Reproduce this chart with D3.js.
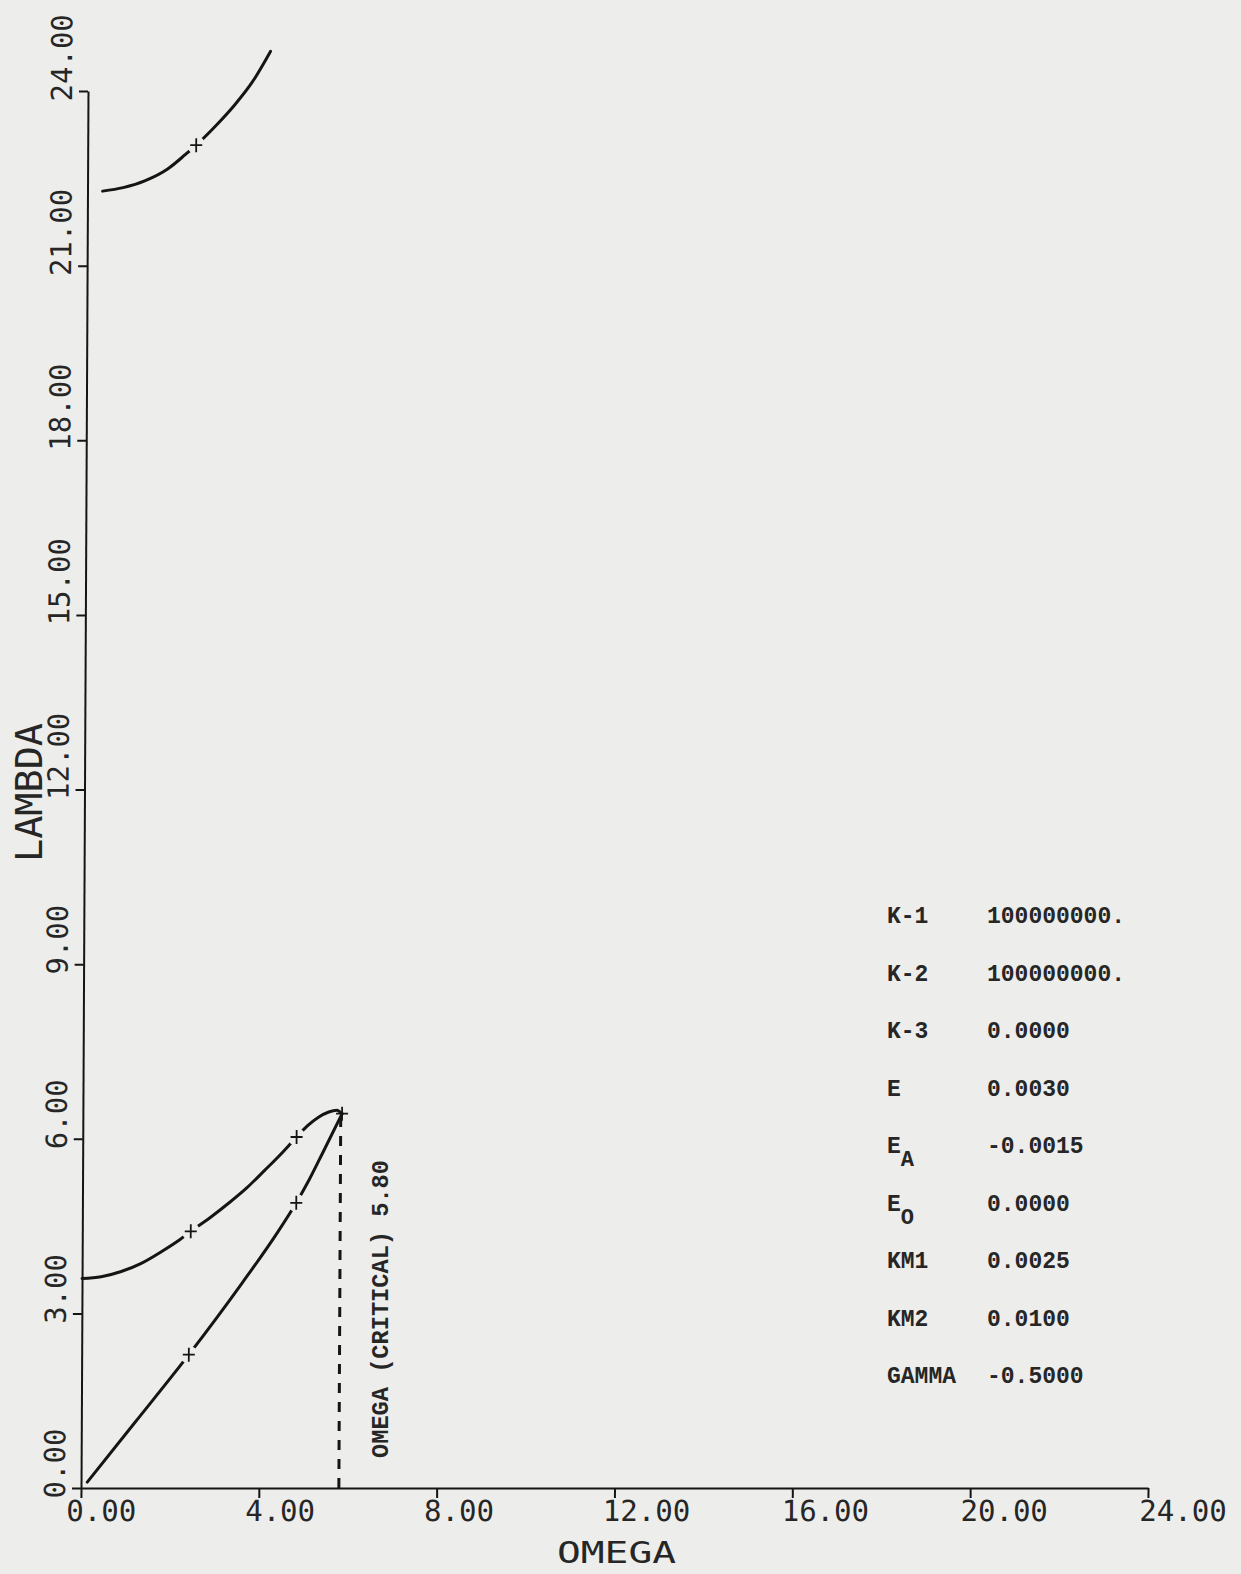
<!DOCTYPE html>
<html>
<head>
<meta charset="utf-8">
<script src="https://cdn.jsdelivr.net/npm/d3@7"></script>
<style>
  html, body { margin: 0; padding: 0; background: #ededeb; }
  svg { display: block; }
</style>
</head>
<body>
<script>
// ---------- data ----------
const xTicks = [0, 4, 8, 12, 16, 20, 24];
const yTicks = [0, 3, 6, 9, 12, 15, 18, 21, 24];

// upper branch
const upperOmega  = [0.34, 0.80, 1.30, 1.80, 2.20, 2.44, 2.90, 3.30, 3.70, 4.10];
const upperLambda = [22.28, 22.34, 22.46, 22.66, 22.91, 23.07, 23.42, 23.76, 24.16, 24.68];

// middle branch
const midOmega  = [0.00, 0.43, 0.88, 1.33, 1.78, 2.20, 2.44, 2.90, 3.30, 3.70, 4.10, 4.45, 4.81, 5.05, 5.30, 5.53, 5.71, 5.83];
const midLambda = [3.60, 3.63, 3.72, 3.86, 4.06, 4.27, 4.41, 4.66, 4.90, 5.16, 5.46, 5.73, 6.03, 6.22, 6.37, 6.46, 6.49, 6.43];

// lower branch
const lowOmega  = [0.14, 1.20, 2.41, 3.60, 4.40, 4.81, 5.10, 5.40, 5.83];
const lowLambda = [0.10, 1.12, 2.29, 3.52, 4.40, 4.90, 5.30, 5.76, 6.43];

// plotted symbols
const markOmega  = [2.44, 2.44, 4.81, 2.41, 4.81, 5.83];
const markLambda = [23.07, 4.41, 6.03, 2.29, 4.90, 6.43];

const criticalOmega = 5.80;
const criticalTop = 6.43;
const criticalLabel = "OMEGA (CRITICAL) 5.80";

const paramNames  = ["K-1", "K-2", "K-3", "E", "E|A", "E|O", "KM1", "KM2", "GAMMA"];
const paramValues = ["100000000.", "100000000.", "0.0000", "0.0030", "-0.0015", "0.0000", "0.0025", "0.0100", "-0.5000"];

// ---------- drawing ----------
const W = 1241, H = 1574;
const bg = "#ededeb";
const svg = d3.select("body").append("svg").attr("width", W).attr("height", H);
svg.append("rect").attr("width", W).attr("height", H).attr("fill", bg);

const x = d3.scaleLinear().domain([0, 24]).range([81, 1148]);
const y = d3.scaleLinear().domain([0, 24]).range([1488, 91]);

const ink = "#151515";
const textInk = "#262626";
const plotFont = "'DejaVu Sans Mono', monospace";
const typeFont = "'Liberation Mono', 'Courier New', monospace";

// slight scan shear of the plotted frame
const y0 = y(0);
const shear = Math.atan(-7 / (y(0) - y(24))) * 180 / Math.PI;
const g = svg.append("g")
  .attr("transform", `translate(0,${y0}) skewX(${shear}) translate(0,${-y0})`);

// x axis
const xAxis = g.append("g")
  .attr("transform", `translate(0,${y(0)})`)
  .call(d3.axisBottom(x).tickValues(xTicks).tickSize(10).tickSizeOuter(0)
        .tickFormat(d => d.toFixed(2)));
// y axis
const yAxis = g.append("g")
  .attr("transform", `translate(${x(0)},0)`)
  .call(d3.axisLeft(y).tickValues(yTicks).tickSize(9).tickSizeOuter(0)
        .tickFormat(d => d.toFixed(2)));

[xAxis, yAxis].forEach(a => {
  a.selectAll("path.domain").attr("stroke", ink).attr("stroke-width", 2);
  a.selectAll(".tick line").attr("stroke", ink).attr("stroke-width", 2);
  a.attr("font-family", null).attr("font-size", null);
  a.selectAll(".tick text")
    .attr("fill", textInk)
    .style("font-family", plotFont)
    .style("font-size", "29px");
});
xAxis.selectAll(".tick text")
  .attr("text-anchor", "start").attr("x", d => -15 + d * 0.25).attr("y", 33).attr("dy", 0);
yAxis.selectAll(".tick text")
  .attr("text-anchor", "start").attr("transform", "rotate(-90)")
  .attr("x", -10).attr("y", -16).attr("dy", 0);

// curves
const line = d3.line().x(d => x(d[0])).y(d => y(d[1])).curve(d3.curveMonotoneX);
const series = [
  d3.zip(upperOmega, upperLambda),
  d3.zip(midOmega, midLambda),
  d3.zip(lowOmega, lowLambda)
];
g.selectAll("path.curve").data(series).join("path")
  .attr("class", "curve")
  .attr("d", line)
  .attr("fill", "none")
  .attr("stroke", ink)
  .attr("stroke-width", 3)
  .attr("stroke-linecap", "round");

// critical omega dashed line
g.append("line")
  .attr("x1", x(criticalOmega)).attr("x2", x(criticalOmega))
  .attr("y1", y(0)).attr("y2", y(criticalTop))
  .attr("stroke", ink).attr("stroke-width", 3)
  .attr("stroke-dasharray", "10,9");

// symbols (with pen-lift gaps)
const marks = d3.zip(markOmega, markLambda);
g.selectAll("circle.gap").data(marks.slice(0, 5)).join("circle")
  .attr("class", "gap")
  .attr("cx", d => x(d[0])).attr("cy", d => y(d[1])).attr("r", 9)
  .attr("fill", bg);
g.selectAll("path.mark").data(marks).join("path")
  .attr("class", "mark")
  .attr("transform", d => `translate(${x(d[0])},${y(d[1])})`)
  .attr("d", "M-6,0H6M0,-7V7")
  .attr("stroke", ink).attr("stroke-width", 1.8).attr("fill", "none");

// axis titles
svg.append("text")
  .attr("x", 557).attr("y", 1563)
  .attr("textLength", 119).attr("lengthAdjust", "spacingAndGlyphs")
  .style("font-family", plotFont).style("font-size", "31px")
  .attr("fill", textInk)
  .text("OMEGA");
svg.append("text")
  .attr("transform", "translate(42,862) rotate(-90)")
  .attr("textLength", 139).attr("lengthAdjust", "spacingAndGlyphs")
  .style("font-family", plotFont).style("font-size", "38px")
  .attr("fill", textInk)
  .text("LAMBDA");

// critical label
svg.append("text")
  .attr("transform", "translate(388,1458) rotate(-90)")
  .attr("textLength", 298).attr("lengthAdjust", "spacingAndGlyphs")
  .style("font-family", typeFont).style("font-size", "24px")
  .style("font-weight", "bold")
  .attr("fill", textInk)
  .text(criticalLabel);

// parameter table
const rowY = d3.scaleLinear().domain([0, paramNames.length - 1]).range([923, 1383]);
const table = svg.append("g")
  .style("font-family", typeFont).style("font-size", "23px").style("font-weight", "bold")
  .attr("fill", textInk);
paramNames.forEach((n, i) => {
  const t = table.append("text").attr("x", 887).attr("y", rowY(i));
  const parts = n.split("|");
  t.append("tspan").text(parts[0]);
  if (parts[1]) {
    t.append("tspan").attr("dy", 13).style("font-size", "22px").text(parts[1]);
  }
  table.append("text").attr("x", 987).attr("y", rowY(i)).text(paramValues[i]);
});
</script>
</body>
</html>
